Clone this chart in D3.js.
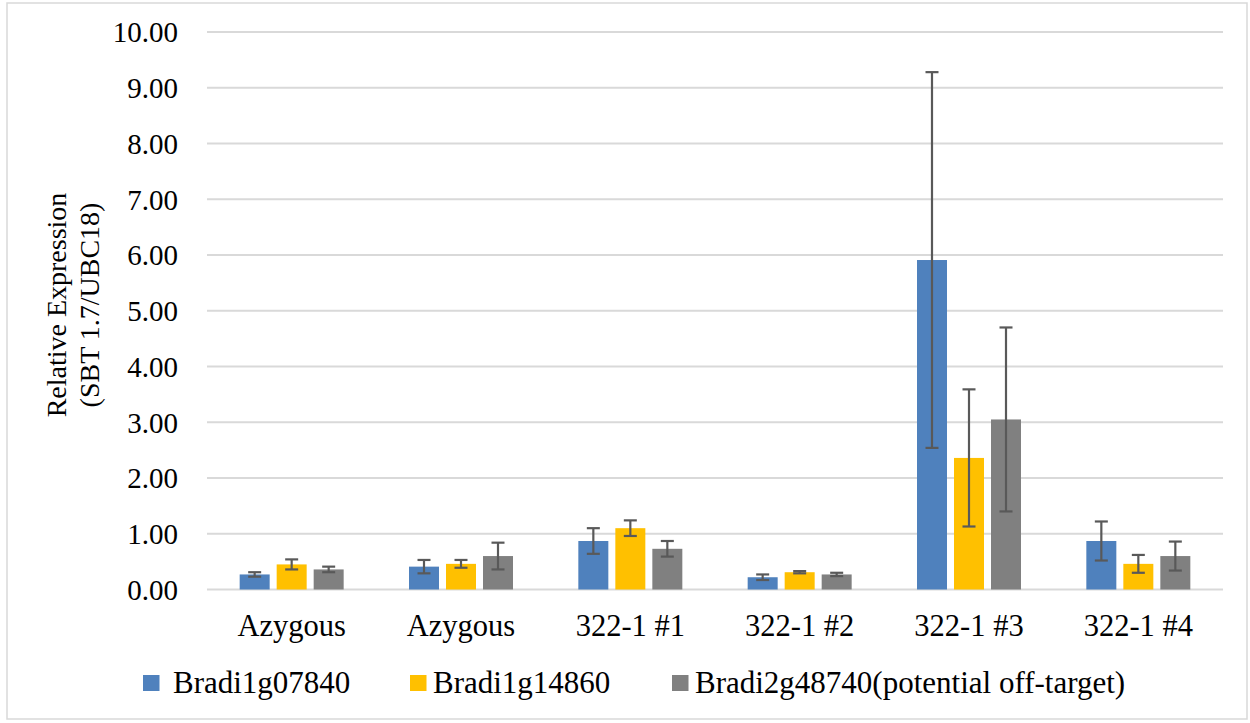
<!DOCTYPE html>
<html>
<head>
<meta charset="utf-8">
<script src="https://cdn.jsdelivr.net/npm/d3@7/dist/d3.min.js"></script>
<style>
  html, body { margin: 0; padding: 0; background: #fff; }
  svg { display: block; }
  svg text { font-family: "Liberation Serif", "Times New Roman", serif; }
</style>
</head>
<body>
<svg id="chart" width="1250" height="723"></svg>
<script>
// ---- data ----
const categories = ["Azygous", "Azygous", "322-1 #1", "322-1 #2", "322-1 #3", "322-1 #4"];
const seriesNames = ["Bradi1g07840", "Bradi1g14860", "Bradi2g48740(potential off-target)"];
const seriesColors = ["#4F81BD", "#FFC000", "#808080"];
const bradi1g07840 = [0.27, 0.41, 0.87, 0.22, 5.91, 0.87];
const bradi1g07840Err = [0.04, 0.12, 0.23, 0.05, 3.37, 0.35];
const bradi1g14860 = [0.45, 0.46, 1.10, 0.31, 2.36, 0.46];
const bradi1g14860Err = [0.09, 0.07, 0.14, 0.02, 1.23, 0.16];
const bradi2g48740 = [0.36, 0.60, 0.73, 0.27, 3.05, 0.60];
const bradi2g48740Err = [0.05, 0.24, 0.14, 0.03, 1.65, 0.26];
const yTicks = [0, 1, 2, 3, 4, 5, 6, 7, 8, 9, 10];
const yTitle = ["Relative Expression", "(SBT 1.7/UBC18)"];

const values = [bradi1g07840, bradi1g14860, bradi2g48740];
const errors = [bradi1g07840Err, bradi1g14860Err, bradi2g48740Err];

// ---- layout ----
const FONT = "'Liberation Serif', 'Times New Roman', serif";
const svg = d3.select("#chart");
const plotLeft = 207, plotRight = 1223, yTop = 32, yZero = 589.5;

// outer border
svg.append("rect")
  .attr("x", 7).attr("y", 3).attr("width", 1240).attr("height", 716)
  .attr("fill", "#fff").attr("stroke", "#d9d9d9").attr("stroke-width", 1.5);

const y = d3.scaleLinear().domain([0, 10]).range([yZero, yTop]);
const x0 = d3.scaleBand().domain(d3.range(categories.length)).range([plotLeft, plotRight]);
const x1 = d3.scaleBand().domain(d3.range(seriesNames.length)).range([-52, 52]).paddingInner(7 / 37);

// gridlines
svg.append("g").selectAll("line").data(yTicks).join("line")
  .attr("x1", plotLeft).attr("x2", plotRight)
  .attr("y1", d => y(d)).attr("y2", d => y(d))
  .attr("stroke", "#d9d9d9").attr("stroke-width", 2);

// y axis labels via d3 axis
const yAxis = d3.axisLeft(y).tickValues(yTicks).tickFormat(d3.format(".2f")).tickSize(0).tickPadding(0);
const yg = svg.append("g").attr("transform", "translate(178,0)").call(yAxis);
yg.attr("font-family", FONT).attr("font-size", 29);
yg.select(".domain").remove();
yg.selectAll("text")
  .attr("font-family", FONT)
  .attr("font-size", 29).attr("fill", "#000").attr("dy", "0.34em").attr("x", 0);

// bars
const groups = svg.append("g").selectAll("g").data(categories.map((c, i) => i)).join("g")
  .attr("transform", i => `translate(${x0(i) + x0.bandwidth() / 2},0)`);

groups.selectAll("rect").data(i => values.map((v, s) => ({ s, v: v[i], e: errors[s][i] }))).join("rect")
  .attr("x", d => x1(d.s)).attr("width", x1.bandwidth())
  .attr("y", d => y(d.v)).attr("height", d => yZero - y(d.v))
  .attr("fill", d => seriesColors[d.s]);

// error bars
const capW = 13;
const eb = groups.selectAll("g.err").data(i => values.map((v, s) => ({ s, v: v[i], e: errors[s][i] }))).join("g")
  .attr("class", "err")
  .attr("transform", d => `translate(${x1(d.s) + x1.bandwidth() / 2},0)`)
  .attr("stroke", "#595959").attr("stroke-width", 2.2);
eb.append("line").attr("x1", 0).attr("x2", 0).attr("y1", d => y(d.v + d.e)).attr("y2", d => y(d.v - d.e));
eb.append("line").attr("x1", -capW / 2).attr("x2", capW / 2).attr("y1", d => y(d.v + d.e)).attr("y2", d => y(d.v + d.e));
eb.append("line").attr("x1", -capW / 2).attr("x2", capW / 2).attr("y1", d => y(d.v - d.e)).attr("y2", d => y(d.v - d.e));

// category labels
svg.append("g").selectAll("text").data(categories.map((c, i) => i)).join("text")
  .attr("x", i => x0(i) + x0.bandwidth() / 2).attr("y", 636)
  .attr("text-anchor", "middle").attr("font-family", FONT).attr("font-size", 30.5).attr("fill", "#000")
  .text(i => categories[i]);

// y title
const yt = svg.append("text")
  .attr("transform", "translate(0,305) rotate(-90)")
  .attr("text-anchor", "middle").attr("font-family", FONT).attr("font-size", 28).attr("fill", "#000");
yt.selectAll("tspan").data(yTitle).join("tspan")
  .attr("x", 0).attr("y", (d, i) => i === 0 ? 66 : 99)
  .attr("font-family", FONT)
  .text(d => d);

// legend
const legendSquareX = [143, 410, 672];
const legendTextX = [173, 433, 695];
const lg = svg.append("g").selectAll("g").data(seriesNames.map((n, i) => i)).join("g");
lg.append("rect")
  .attr("x", i => legendSquareX[i]).attr("y", 675).attr("width", 16.5).attr("height", 16)
  .attr("fill", i => seriesColors[i]);
lg.append("text")
  .attr("x", i => legendTextX[i]).attr("y", 692.5)
  .attr("font-family", FONT).attr("font-size", 31).attr("fill", "#000")
  .text(i => seriesNames[i]);
</script>
</body>
</html>
